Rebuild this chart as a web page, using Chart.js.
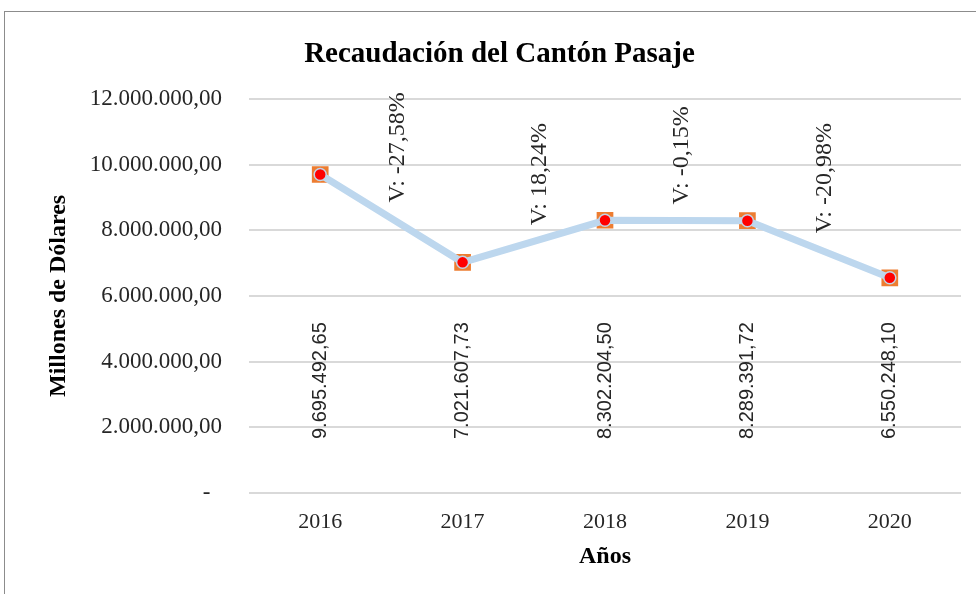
<!DOCTYPE html>
<html lang="es">
<head>
    <meta charset="UTF-8">
    <title>Recaudación del Cantón Pasaje</title>
    <script src="https://cdn.jsdelivr.net/npm/chart.js"></script>
    <style>
        html, body { margin: 0; padding: 0; background: #fff; overflow: hidden; }
        #frame {
            position: absolute; left: 4px; top: 11px;
            width: 1200px; height: 800px;
            border: 1px solid #8c8c8c;
        }
        #chart { position: absolute; left: 0; top: 0; }
    </style>
</head>
<body>
    <div id="frame"></div>
    <canvas id="chart" width="976" height="594"></canvas>
    <script>
        // Datos
        const years = ['2016', '2017', '2018', '2019', '2020'];
        const recaudacion = [9695492.65, 7021607.73, 8302204.50, 8289391.72, 6550248.10];
        const variaciones = [-27.58, 18.24, -0.15, -20.98];
        const yTicks = [0, 2000000, 4000000, 6000000, 8000000, 10000000, 12000000];

        // formato 12.000.000,00
        function fmt(n) {
            const parts = n.toFixed(2).split('.');
            const ent = parts[0].replace(/\B(?=(\d{3})+(?!\d))/g, '.');
            return ent + ',' + parts[1];
        }

        const serif = '"Liberation Serif", "Times New Roman", serif';
        const sans = '"Liberation Sans", Arial, sans-serif';

        // etiquetas de valor y de variacion
        const labelsPlugin = {
            id: 'labelsPlugin',
            afterDatasetsDraw(chart) {
                const ctx = chart.ctx;
                const area = chart.chartArea;
                const pts = chart.getDatasetMeta(0).data;
                ctx.save();
                ctx.fillStyle = '#262626';
                ctx.textAlign = 'left';
                ctx.textBaseline = 'middle';

                ctx.font = '20px ' + sans;
                pts.forEach((p, i) => {
                    ctx.save();
                    ctx.translate(p.x, area.bottom - 54);
                    ctx.rotate(-Math.PI / 2);
                    ctx.fillText(fmt(recaudacion[i]), 0, 0);
                    ctx.restore();
                });

                ctx.font = '24px ' + serif;
                variaciones.forEach((v, i) => {
                    const a = pts[i], b = pts[i + 1];
                    ctx.save();
                    ctx.translate((a.x + b.x) / 2 + 6, (a.y + b.y) / 2 - 16);
                    ctx.rotate(-Math.PI / 2);
                    ctx.fillText('V: ' + v.toFixed(2).replace('.', ',') + '%', 0, 0);
                    ctx.restore();
                });
                ctx.restore();
            }
        };

        const config = {
            type: 'line',
            data: {
                labels: years,
                datasets: [{
                    // linea + circulo rojo
                    data: recaudacion,
                    order: 1,
                    borderColor: '#bdd7ee',
                    borderWidth: 7,
                    tension: 0,
                    pointStyle: 'circle',
                    pointRadius: 6,
                    pointBackgroundColor: '#ff0000',
                    pointBorderColor: '#c3d3e6',
                    pointBorderWidth: 1.5
                }, {
                    // cuadrado naranja debajo
                    data: recaudacion,
                    order: 2,
                    showLine: false,
                    pointStyle: 'rect',
                    pointRadius: 11.8,
                    pointBackgroundColor: '#ed7d31',
                    pointBorderWidth: 0
                }]
            },
            options: {
                responsive: false,
                animation: false,
                layout: { padding: { left: 38, right: 15, top: 0, bottom: 0 } },
                plugins: {
                    legend: { display: false },
                    tooltip: { enabled: false },
                    title: {
                        display: true,
                        text: 'Recaudación del Cantón Pasaje',
                        color: '#000',
                        font: { family: serif, size: 29, weight: 'bold' },
                        padding: { top: 37, bottom: 27 }
                    }
                },
                scales: {
                    x: {
                        offset: true,
                        grid: { display: false, drawTicks: false },
                        border: { display: false },
                        ticks: {
                            color: '#262626',
                            padding: 16,
                            font: { family: serif, size: 22 }
                        },
                        title: {
                            display: true,
                            text: 'Años',
                            color: '#000',
                            font: { family: serif, size: 24, weight: 'bold' },
                            padding: { top: 0, bottom: 23 }
                        },
                        afterFit(scale) { scale.height = 101; }
                    },
                    y: {
                        min: 0,
                        max: 12000000,
                        afterBuildTicks(scale) {
                            scale.ticks = yTicks.map(v => ({ value: v }));
                        },
                        grid: { color: '#d9d9d9', lineWidth: 2, drawTicks: false },
                        border: { display: false },
                        ticks: {
                            color: '#262626',
                            padding: 27,
                            font: { family: serif, size: 23 },
                            callback: (v) => v === 0 ? '-  ' : fmt(v)
                        },
                        title: {
                            display: true,
                            text: 'Millones de Dólares',
                            color: '#000',
                            font: { family: serif, size: 24, weight: 'bold' },
                            padding: { top: 6, bottom: 0 }
                        },
                        afterFit(scale) { scale.width = 211; }
                    }
                }
            },
            plugins: [labelsPlugin]
        };

        new Chart(document.getElementById('chart').getContext('2d'), config);
    </script>
</body>
</html>
